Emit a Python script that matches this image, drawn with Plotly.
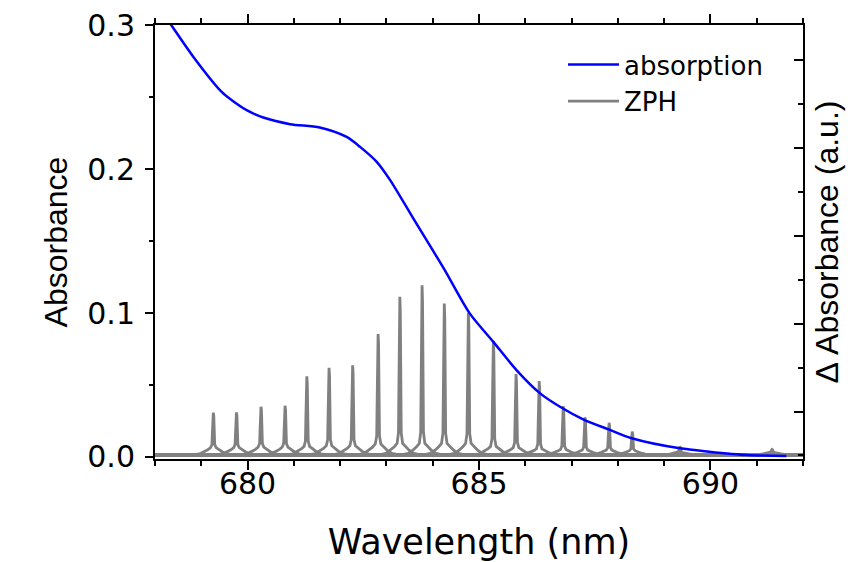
import plotly.graph_objects as go

# ---------------- data ----------------
ABS_WL = [678.0, 678.38, 678.83, 679.44, 679.66, 679.98, 680.34, 680.92, 681.56,
          682.14, 682.43, 682.79, 683.08, 683.58, 684.26, 684.80, 685.31, 685.81,
          686.32, 686.75, 687.25, 687.83, 688.30, 689.34, 689.97, 690.78, 691.64]
ABS_VAL = [0.317, 0.2988, 0.278, 0.2537, 0.2479, 0.241, 0.2359, 0.2313, 0.229,
           0.2224, 0.2155, 0.2051, 0.1924, 0.1658, 0.1299, 0.0998, 0.080, 0.0604,
           0.0442, 0.0349, 0.0262, 0.0188, 0.013, 0.006, 0.0037, 0.0014, 0.0007]

ZPH_CENTER = [679.26, 679.76, 680.29, 680.81, 681.28, 681.76, 682.27, 682.82, 683.29,
              683.77, 684.25, 684.77, 685.31, 685.80, 686.30, 686.82, 687.29, 687.81,
              688.31, 689.34, 691.33]
ZPH_HEIGHT = [0.0308, 0.031, 0.0349, 0.0356, 0.056, 0.062, 0.0637, 0.0854, 0.1113,
              0.1194, 0.1067, 0.1002, 0.0806, 0.0576, 0.0528, 0.0354, 0.0276, 0.0238,
              0.0176, 0.0072, 0.0053]
ZPH_WING = [0.006, 0.006, 0.0065, 0.0065, 0.007, 0.0075, 0.0075, 0.009, 0.0095,
            0.0095, 0.0095, 0.0095, 0.007, 0.006, 0.005, 0.0045, 0.004, 0.004,
            0.0035, 0.002, 0.002]
ZPH_BASELINE = 0.0014

# hole profile template (offset from burn wavelength, nm)
ZPH_OFFSET = [-0.45, -0.3, -0.2, -0.12, -0.06, -0.03, -0.02, -0.01, 0.0,
              0.01, 0.02, 0.03, 0.06, 0.12, 0.2, 0.3, 0.45]
ZPH_WING_FRAC = [0, 0.12, 0.35, 0.6, 0.85, 0.97, 0.99, 1, 1, 1, 0.99, 0.97, 0.85,
                 0.6, 0.35, 0.12, 0]
ZPH_PEAK_FRAC = [0, 0, 0, 0, 0, 0.06, 0.4, 0.9, 1, 0.9, 0.4, 0.06, 0, 0, 0, 0, 0]

X_RANGE = [678, 692]
X_TICKS = [680, 685, 690]
Y_RANGE = [-0.0014, 0.3002]
Y_TICKS = [0.0, 0.1, 0.2, 0.3]
Y_TICK_TEXT = ["0.0", "0.1", "0.2", "0.3"]
Y2_RANGE = [-1.08, 8.8]
Y2_MAJOR = [0, 2, 4, 6, 8]
Y2_MINOR = [-1, 1, 3, 5, 7]

# ---------------- build ZPH spectra ----------------
zx, zy = [], []
for c, h, w in zip(ZPH_CENTER, ZPH_HEIGHT, ZPH_WING):
    zx += [X_RANGE[0]] + [c + o for o in ZPH_OFFSET] + [X_RANGE[1], None]
    zy += [ZPH_BASELINE] + [ZPH_BASELINE + w * wf + (h - ZPH_BASELINE - w) * pf
                            for wf, pf in zip(ZPH_WING_FRAC, ZPH_PEAK_FRAC)] + [ZPH_BASELINE, None]

FONT_H = "DejaVu Sans, sans-serif"
FONT_V = "Liberation Sans, Arial, sans-serif"

fig = go.Figure()
fig.add_trace(go.Scatter(x=zx, y=zy, mode="lines", name="ZPH",
                         line=dict(color="#808080", width=2.8), connectgaps=False,
                         legendrank=2))
fig.add_trace(go.Scatter(x=ABS_WL, y=ABS_VAL, mode="lines", name="absorption",
                         line=dict(color="#0000ff", width=2.5, shape="spline", smoothing=0.8),
                         legendrank=1))
fig.add_trace(go.Scatter(x=[X_RANGE[0]], y=[0], yaxis="y2", mode="lines",
                         showlegend=False, hoverinfo="skip", opacity=0))

axis_common = dict(showline=True, linecolor="black", linewidth=2, showgrid=False,
                   zeroline=False, tickcolor="black", tickwidth=2, automargin=False,
                   ticklabeloverflow="allow",
                   tickfont=dict(family=FONT_H, size=30, color="black"))

# the page body adds an 8 px offset, so the figure is 8 px smaller than the window
fig.update_layout(
    width=846, height=554,
    margin=dict(l=147, r=51, t=17, b=103),
    paper_bgcolor="white", plot_bgcolor="white",
    font=dict(family=FONT_H, color="black"),
    xaxis=dict(range=X_RANGE, tickvals=X_TICKS, ticks="outside", ticklen=9,
               mirror="ticks", ticklabelstandoff=-12,
               minor=dict(dtick=1, tick0=678, ticks="outside", ticklen=5,
                          tickwidth=1.5, tickcolor="black", showgrid=False),
               title=dict(text="Wavelength (nm)", font=dict(family=FONT_H, size=35),
                          standoff=31),
               **axis_common),
    yaxis=dict(range=Y_RANGE, tickvals=Y_TICKS, ticktext=Y_TICK_TEXT,
               ticks="outside", ticklen=8, ticklabelstandoff=4,
               minor=dict(dtick=0.05, tick0=0, ticks="outside", ticklen=4,
                          tickwidth=1.5, tickcolor="black", showgrid=False),
               title=dict(text="Absorbance", font=dict(family=FONT_V, size=32),
                          standoff=10),
               **axis_common),
    yaxis2=dict(range=Y2_RANGE, overlaying="y", side="right", anchor="x",
                tickvals=Y2_MAJOR, ticks="inside", ticklen=9, showticklabels=False,
                minor=dict(tickvals=Y2_MINOR, ticks="inside", ticklen=5,
                           tickwidth=1.5, tickcolor="black", showgrid=False),
                title=dict(text="Δ Absorbance (a.u.)", font=dict(family=FONT_V, size=32),
                           standoff=12),
                **axis_common),
    legend=dict(x=(563 - 155) / 648, y=1 - (41 - 25) / 434, xanchor="left", yanchor="top",
                bgcolor="rgba(0,0,0,0)", borderwidth=0, itemwidth=51,
                font=dict(family=FONT_H, size=26, color="black")),
)

fig.write_html("out.html")
